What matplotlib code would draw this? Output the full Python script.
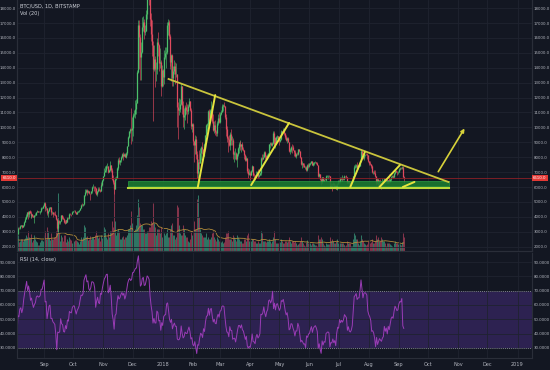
import matplotlib
matplotlib.use('Agg')
import matplotlib.pyplot as plt
import matplotlib.dates as mdates
import matplotlib.transforms as mtrans
import numpy as np
import pandas as pd

# daily BTC/USD candles, one entry per day from start_day
start_day = '2017-07-22'

closes = [
    2830, 2750, 2760, 2570, 2530, 2680, 2800, 2720, 2750, 2870,  # jul 22-31
    2720, 2710, 2800, 2860, 3250, 3230, 3390, 3420, 3340, 3420, 3650, 3850, 4060, 4320, 4160, 4380,
    4280, 4110, 4190, 4080, 4000, 4090, 4140, 4320, 4360, 4340, 4350, 4390, 4580, 4580, 4740,  # aug
    4930, 4580, 4600, 4230, 4400, 4600, 4630, 4300, 4310, 4220, 4190, 4150, 3870, 3230, 3690, 3670,
    3690, 4090, 3910, 3880, 3620, 3600, 3780, 3670, 3930, 3890, 4210, 4180, 4170, 4340,  # sep
    4400, 4400, 4310, 4220, 4320, 4370, 4440, 4610, 4780, 4770, 4830, 5440, 5640, 5820, 5690, 5750,
    5600, 5570, 5700, 6000, 6000, 5980, 5900, 5520, 5740, 5890, 5770, 5750, 6150, 6130, 6450,  # oct
    6740, 7030, 7150, 7380, 7400, 6990, 7120, 7450, 7150, 6570, 6340, 5880, 6520, 6600, 7280, 7840,
    7690, 7790, 8040, 8200, 8100, 8240, 8040, 8250, 8750, 9330, 9730, 9900, 9830, 9940,  # nov
    10860, 10900, 11240, 11620, 11670, 13750, 16850, 16050, 14700, 15060, 16730, 17080, 16390, 16500,
    17600, 19100, 19000, 18800, 17300, 16300, 15500, 13900, 14600, 13900, 13900, 15700, 15500, 14300,
    14400, 12800, 13860,  # dec
    13400, 14750, 15010, 15050, 16900, 17100, 16150, 14900, 14400, 14850, 13300, 13800, 14100, 13600,
    13600, 11400, 11200, 11250, 11550, 12750, 11500, 10700, 10850, 11350, 11150, 11100, 11450, 11750,
    11200, 10100, 10220,  # jan
    9100, 8850, 9200, 8200, 6930, 7700, 7600, 8250, 8700, 8550, 8100, 8900, 8550, 9500, 10150, 10200,
    11100, 10400, 11150, 11250, 10450, 9850, 10150, 9700, 9650, 10300, 10600, 10330,  # feb
    10920, 11030, 11450, 11500, 11450, 10700, 9900, 9300, 9250, 8790, 9530, 9150, 9150, 8200, 8260,
    8270, 7870, 8200, 8600, 8900, 8900, 8720, 8900, 8550, 8450, 8130, 7800, 7950, 7100, 6850, 6930,  # mar
    6820, 7050, 7420, 6800, 6780, 6620, 6900, 7030, 6770, 6830, 6950, 7920, 7890, 8010, 8360, 8060,
    7890, 8170, 8290, 8860, 8920, 8800, 8950, 9650, 8870, 9280, 8930, 9350, 9400, 9240,  # apr
    9070, 9220, 9740, 9700, 9850, 9650, 9370, 9180, 9300, 9020, 8420, 8470, 8700, 8680, 8480, 8330,
    8050, 8240, 8230, 8520, 8390, 8000, 7520, 7580, 7470, 7340, 7350, 7120, 7470, 7400, 7500,  # may
    7520, 7640, 7720, 7500, 7620, 7660, 7690, 7620, 7500, 6770, 6880, 6550, 6300, 6640, 6400, 6500,
    6460, 6710, 6740, 6760, 6720, 6050, 6170, 6150, 6250, 6080, 6130, 5890, 6210, 6390,  # jun
    6350, 6620, 6510, 6590, 6530, 6600, 6750, 6710, 6670, 6300, 6390, 6250, 6220, 6260, 6360, 6740,
    7320, 7380, 7470, 7330, 7400, 7400, 7720, 8400, 8170, 7930, 8190, 8230, 8210, 8170, 7730,  # jul
    7610, 7540, 7420, 7010, 7030, 6940, 6720, 6280, 6540, 6150, 6240, 6320, 6250, 6190, 6270, 6310,
    6580, 6400, 6490, 6270, 6480, 6360, 6520, 6690, 6740, 6700, 6910, 7090, 7040, 6980, 7010,  # aug
    7190, 7270, 7260, 7370, 6700, 6610,  # sep 1-6
]

highs = [
    2870, 2860, 2790, 2770, 2610, 2700, 2830, 2810, 2760, 2890,
    2920, 2760, 2820, 2890, 3340, 3290, 3420, 3480, 3430, 3440, 3700, 3960, 4200, 4330, 4400, 4400,
    4480, 4370, 4200, 4200, 4100, 4130, 4260, 4340, 4460, 4380, 4400, 4400, 4640, 4630, 4760,
    4980, 4960, 4720, 4610, 4480, 4650, 4680, 4690, 4400, 4320, 4340, 4370, 4150, 3920, 3800, 3800,
    3740, 4120, 4100, 4040, 3900, 3760, 3800, 3780, 3970, 3970, 4230, 4260, 4200, 4370,
    4420, 4480, 4430, 4350, 4360, 4420, 4470, 4620, 4890, 4920, 4880, 5450, 5860, 5840, 5850, 5780,
    5760, 5600, 5720, 6070, 6190, 6080, 6050, 5910, 5760, 5970, 6000, 5840, 6330, 6190, 6470,
    6750, 7300, 7440, 7480, 7590, 7440, 7200, 7760, 7460, 7290, 6800, 6480, 6700, 6720, 7330, 7960,
    8000, 7840, 8100, 8300, 8370, 8300, 8270, 8360, 8780, 9450, 9740, 9960, 11300, 10700,
    10940, 11150, 11850, 11630, 11900, 13850, 17180, 17200, 16300, 15700, 17400, 17500, 17250, 16900,
    17900, 19300, 19660, 19100, 18900, 17700, 17200, 15800, 15500, 14800, 14400, 16000, 16400, 15600,
    15300, 14500, 14200,
    13900, 15200, 15400, 15400, 17100, 17250, 17200, 16300, 15400, 14900, 14900, 14100, 14500, 14400,
    14300, 13600, 11700, 12000, 11900, 13000, 12750, 11800, 11300, 11500, 11700, 11600, 11600, 12000,
    11800, 11300, 10300,
    10300, 9100, 9500, 9400, 8400, 7900, 8500, 8600, 8750, 9050, 8550, 8950, 8950, 9500, 10250, 10300,
    11150, 11250, 11250, 11800, 11300, 10900, 10450, 10500, 9850, 10450, 10900, 11050,
    11000, 11150, 11550, 11550, 11700, 11450, 10900, 10100, 9400, 9500, 9700, 9900, 9450, 9300, 8400,
    8600, 8350, 8250, 8700, 9050, 9150, 9100, 8900, 9000, 8700, 8500, 8200, 8100, 7950, 7300, 7200,
    7050, 7120, 7500, 7420, 6920, 6800, 7050, 7100, 7180, 6900, 6980, 8000, 8200, 8200, 8400, 8400,
    8180, 8200, 8300, 8900, 9050, 9000, 9000, 9750, 9750, 9300, 9350, 9450, 9500, 9450,
    9250, 9250, 9800, 9780, 9990, 9950, 9650, 9480, 9360, 9380, 9030, 8650, 8750, 8880, 8850, 8490,
    8450, 8270, 8380, 8550, 8550, 8400, 8030, 7720, 7640, 7620, 7400, 7430, 7550, 7580, 7600,
    7580, 7700, 7760, 7760, 7650, 7700, 7750, 7700, 7680, 7500, 6930, 6900, 6600, 6700, 6650, 6550,
    6590, 6800, 6830, 6810, 6800, 6730, 6250, 6250, 6350, 6300, 6190, 6170, 6290, 6500,
    6440, 6670, 6680, 6780, 6700, 6630, 6800, 6770, 6810, 6690, 6400, 6390, 6340, 6320, 6400, 6750,
    7460, 7560, 7540, 7680, 7450, 7570, 7770, 8480, 8480, 8290, 8250, 8240, 8290, 8270, 8180,
    7760, 7720, 7540, 7500, 7080, 7160, 7150, 6730, 6620, 6560, 6480, 6480, 6540, 6250, 6620, 6480,
    6600, 6620, 6550, 6540, 6500, 6880, 6560, 6720, 6800, 6780, 6950, 7130, 7140, 7060, 7090,
    7250, 7350, 7340, 7400, 7380, 6720,
]

lows = [
    2650, 2700, 2700, 2520, 2450, 2510, 2670, 2690, 2620, 2710,
    2680, 2650, 2700, 2770, 2850, 3170, 3200, 3350, 3250, 3320, 3400, 3620, 3850, 3990, 3850, 3960,
    4250, 3950, 3950, 4020, 3960, 3610, 4070, 4120, 4310, 4300, 4320, 4200, 4350, 4500, 4570,
    4700, 4400, 4480, 4100, 4000, 4400, 4530, 4150, 4200, 4000, 4150, 4080, 3770, 3200, 2970, 3530,
    3500, 3690, 3850, 3850, 3580, 3500, 3580, 3640, 3660, 3860, 3880, 4130, 4050, 4160,
    4300, 4370, 4260, 4180, 4170, 4310, 4320, 4430, 4560, 4730, 4740, 4820, 5380, 5580, 5450, 5570,
    5500, 5100, 5550, 5620, 5900, 5720, 5630, 5460, 5400, 5690, 5720, 5680, 5740, 6040, 6100,
    6380, 6740, 7000, 7030, 7300, 6950, 6980, 7060, 7040, 6450, 6200, 5500, 5860, 6450, 6580, 7130,
    7550, 7490, 7670, 7950, 7830, 8090, 7980, 7940, 8180, 8730, 9310, 9640, 8900, 9100,
    9400, 10680, 10600, 10900, 11450, 11670, 13680, 13900, 13150, 13200, 15000, 16500, 15900, 16200,
    16500, 17300, 18700, 18200, 16800, 15800, 14800, 10400, 13800, 12700, 13100, 13600, 14800, 13800,
    14000, 12100, 12700,
    12800, 12900, 14600, 14000, 14900, 16200, 15900, 13900, 14100, 13100, 12800, 12800, 13600, 12900,
    13400, 10000, 9200, 10800, 11000, 11500, 10900, 10000, 9900, 10500, 10900, 10300, 10900, 11400,
    11100, 9900, 9700,
    8800, 7700, 8200, 7900, 6600, 5920, 7200, 7600, 7800, 8200, 7850, 8100, 8400, 8550, 9400, 9750,
    10100, 10100, 10350, 11100, 10300, 9750, 9600, 9500, 9400, 9400, 10150, 10300,
    10300, 10800, 11000, 11100, 11400, 10550, 9400, 9050, 8350, 8750, 8500, 8800, 8850, 7900, 7700,
    7900, 7800, 7350, 8100, 8300, 8750, 8500, 8350, 8500, 8400, 7850, 7750, 7750, 6950, 6600, 6800,
    6450, 6780, 7000, 6750, 6600, 6500, 6600, 6880, 6600, 6650, 6800, 6780, 7750, 7850, 8000, 7900,
    7850, 7850, 8100, 8200, 8600, 8750, 8780, 8900, 8700, 8650, 8900, 8900, 9200, 9100,
    8850, 9000, 9150, 9550, 9700, 9500, 9200, 9100, 8950, 9000, 8350, 8200, 8350, 8300, 8450, 8100,
    8000, 7950, 8150, 8170, 8350, 7970, 7450, 7300, 7330, 7330, 7230, 7080, 7080, 7300, 7370,
    7380, 7480, 7600, 7460, 7380, 7500, 7640, 7550, 7480, 6680, 6660, 6470, 6110, 6300, 6380, 6380,
    6450, 6410, 6680, 6560, 6690, 5950, 6040, 5760, 6080, 6060, 6030, 5860, 5800, 6200,
    6290, 6290, 6460, 6430, 6460, 6450, 6570, 6690, 6650, 6290, 6280, 6080, 6140, 6200, 6250, 6340,
    6660, 7260, 7290, 7290, 7210, 7370, 7380, 7700, 8070, 7860, 7800, 8080, 8130, 7890, 7650,
    7460, 7480, 7290, 6960, 6880, 6850, 6680, 6130, 6200, 6040, 6020, 6200, 6150, 5880, 6180, 6220,
    6300, 6300, 6300, 6250, 6260, 6280, 6330, 6420, 6680, 6580, 6680, 6880, 6980, 6820, 6900,
    7000, 7150, 7200, 7240, 6680, 6300,
]

# daily volume, thousands of BTC
volumes = [
    14, 12, 10, 13, 12, 10, 11, 9, 9, 10,
    12, 10, 9, 9, 16, 9, 10, 12, 12, 10, 12, 13, 16, 14, 20, 14, 13, 17, 12, 9,
    11, 16, 12, 10, 9, 6, 6, 9, 11, 11, 10,
    16, 20, 12, 24, 20, 13, 11, 18, 12, 12, 14, 14, 20, 30, 58, 18, 10, 16, 14, 10,
    16, 16, 9, 7, 12, 10, 14, 12, 11, 8,
    8, 10, 11, 11, 10, 9, 7, 10, 14, 12, 14, 26, 24, 14, 15, 11, 12, 15, 12, 14,
    14, 12, 16, 20, 16, 13, 14, 10, 16, 12, 13,
    18, 24, 22, 14, 12, 18, 14, 20, 20, 30, 24, 68, 30, 16, 20, 22, 20, 12, 12, 14,
    15, 12, 14, 14, 16, 22, 22, 26, 40, 28,
    22, 20, 22, 26, 22, 36, 52, 44, 28, 26, 26, 22, 22, 18, 18, 20, 20, 24, 24, 30,
    28, 48, 28, 24, 16, 22, 22, 22, 18, 24, 14,
    12, 18, 16, 18, 22, 14, 14, 22, 18, 26, 28, 16, 16, 12, 14, 46, 44, 26, 18, 16,
    16, 26, 22, 16, 14, 14, 10, 9, 12, 20, 16,
    22, 30, 22, 22, 52, 56, 34, 22, 18, 16, 14, 14, 12, 14, 18, 12, 14, 12, 12, 14,
    18, 20, 14, 12, 10, 14, 12, 10,
    10, 9, 10, 8, 9, 14, 18, 18, 20, 12, 12, 12, 10, 16, 14, 12, 10, 16, 14, 12,
    10, 8, 10, 8, 8, 12, 12, 10, 16, 18, 10,
    10, 10, 12, 12, 10, 10, 8, 8, 10, 8, 8, 20, 18, 10, 10, 10, 9, 10, 10, 12,
    10, 8, 10, 14, 20, 12, 10, 8, 8, 8,
    9, 9, 12, 10, 8, 8, 10, 10, 9, 10, 14, 10, 8, 10, 10, 9, 10, 8, 6, 7,
    8, 10, 14, 10, 8, 6, 5, 9, 11, 8, 8,
    8, 8, 6, 8, 8, 7, 6, 6, 5, 16, 12, 12, 14, 12, 8, 6, 5, 8, 7, 7,
    7, 14, 10, 12, 10, 8, 8, 10, 12, 8,
    6, 8, 8, 8, 8, 6, 6, 5, 6, 10, 8, 8, 8, 5, 5, 12, 18, 16, 12, 12,
    8, 6, 10, 16, 12, 10, 8, 7, 6, 7, 10,
    10, 8, 9, 12, 8, 8, 10, 16, 12, 14, 10, 7, 10, 14, 12, 10, 10, 8, 5, 8,
    8, 8, 7, 6, 5, 4, 8, 10, 8, 8, 7,
    8, 7, 6, 9, 18, 14,
]

# drawn levels: (date, price) pairs
upper_trend = [('2018-01-07', 13250), ('2018-10-22', 6335)]
rise_lines = [
    [('2018-02-06', 5950), ('2018-02-24', 12170)],
    [('2018-04-02', 6130), ('2018-05-11', 10300)],
    [('2018-07-13', 6000), ('2018-07-28', 8350)],
    [('2018-08-12', 6000), ('2018-09-02', 7470)],
    [('2018-09-05', 6000), ('2018-09-11', 6170), ('2018-09-17', 6340)],
]
arrow_pts = [('2018-10-10', 6870), ('2018-11-09', 10090)]
support_zone = ('2017-11-26', '2018-10-23', 6080, 6400)
support_line = 5950
last_price = 6610

bg = '#131722'
txt = '#b2b5be'
grid_c = '#1f2330'
up_c, dn_c = '#4cbf6b', '#e04a5e'
vup_c, vdn_c = '#2f7563', '#83344b'

dates = pd.date_range(start_day, periods=len(closes), freq='D')
c = np.array(closes, float)
o = np.r_[c[0], c[:-1]]
h = np.array(highs, float)
l = np.array(lows, float)
v = np.array(volumes, float)
rising = c >= o

delta = pd.Series(c).diff()
gain = delta.clip(lower=0).ewm(alpha=1/14, adjust=False).mean()
loss = (-delta.clip(upper=0)).ewm(alpha=1/14, adjust=False).mean()
rsi = 100 - 100 / (1 + gain / loss)
vol_ma = pd.Series(v).rolling(20, min_periods=1).mean()

fig = plt.figure(figsize=(5.5, 3.7), dpi=100, facecolor=bg)
ax = fig.add_axes([17/550, 1-251/370, 515/550, 251/370])
axv = ax.twinx()
axr = fig.add_axes([17/550, 1-358/370, 515/550, 105/370], sharex=ax)

ax.set_zorder(2)
axv.set_zorder(1)
ax.patch.set_visible(False)
axv.patch.set_facecolor(bg)
axr.set_facecolor(bg)

# volume
axv.vlines(dates, 0, v, colors=np.where(rising, vup_c, vdn_c), lw=0.75)
axv.plot(dates, vol_ma, color='#b08a3a', lw=0.6)
axv.set_ylim(0, 251)
axv.set_yticks([])

# candles
cols = np.where(rising, up_c, dn_c)
ax.vlines(dates, l, h, colors=cols, lw=0.45)
ax.vlines(dates, np.minimum(o, c), np.maximum(o, c), colors=cols, lw=0.9)

# support zone and trend lines
x0, x1, y0, y1 = support_zone
ax.fill_between([pd.Timestamp(x0), pd.Timestamp(x1)], y0, y1, color='#1a7a30', alpha=0.9,
                edgecolor='#2aa845', lw=0.5, zorder=3)
ax.plot([pd.Timestamp(x0), pd.Timestamp(x1)], [support_line] * 2, color='#bcd93a', lw=1.5, zorder=3)
ax.axhline(last_price, color='#8e2026', lw=0.6, zorder=2)

def seg(pts):
    return [pd.Timestamp(p[0]) for p in pts], [p[1] for p in pts]

xs, ys = seg(upper_trend)
ax.plot(xs, ys, color='#c9c43c', lw=1.3, zorder=4)
for pts in rise_lines:
    xs, ys = seg(pts)
    ax.plot(xs, ys, color='#e4e33e', lw=1.4, zorder=4, solid_capstyle='round')
xs, ys = seg(arrow_pts)
ax.annotate('', xy=(xs[1], ys[1]), xytext=(xs[0], ys[0]),
            arrowprops=dict(arrowstyle='-|>', color='#d7d23a', lw=1.2, mutation_scale=5), zorder=4)

ax.set_xlim(pd.Timestamp('2017-08-04 02:00'), pd.Timestamp('2019-01-15 22:00'))
ax.set_ylim(1705, 18550)
ax.set_yticks(range(2000, 18001, 1000))
ax.set_yticklabels([f'{t:.1f}' for t in range(2000, 18001, 1000)])
ax.tick_params(axis='y', length=0, labelsize=2.8, labelcolor=txt, pad=1,
               labelleft=True, labelright=True)
ax.tick_params(axis='x', length=0, labelbottom=False)
ax.grid(True, color=grid_c, lw=0.6)

blend = mtrans.blended_transform_factory(ax.transAxes, ax.transData)
for xa, ha in [(-0.002, 'right'), (1.002, 'left')]:
    ax.text(xa, last_price, f'{last_price:.1f}', transform=blend, ha=ha, va='center',
            fontsize=2.8, color='white', zorder=6,
            bbox=dict(boxstyle='square,pad=0.35', fc='#e53935', ec='none'))

# RSI panel
axr.axhspan(30, 70, color='#6a3cbf', alpha=0.3, lw=0)
for lvl in (70, 30):
    axr.axhline(lvl, color='#9a9ca6', lw=0.6, ls=(0, (1, 1.5)))
axr.plot(dates, rsi, color='#9a3cb6', lw=0.7)
axr.set_ylim(23, 96.3)
axr.set_yticks(range(30, 91, 10))
axr.set_yticklabels([f'{t:.4f}' for t in range(30, 91, 10)])
axr.tick_params(axis='y', length=0, labelsize=2.8, labelcolor=txt, pad=1,
                labelleft=True, labelright=True)
axr.grid(True, color=grid_c, lw=0.6)

axr.xaxis.set_major_locator(mdates.MonthLocator())
axr.xaxis.set_major_formatter(plt.FuncFormatter(
    lambda x, p: mdates.num2date(x).strftime('%Y') if mdates.num2date(x).month == 1
    else mdates.num2date(x).strftime('%b')))
axr.tick_params(axis='x', length=0, labelsize=3.6, labelcolor=txt, pad=3)

for a in (ax, axv, axr):
    for s in a.spines.values():
        s.set_color('#2a2e39')
        s.set_linewidth(0.8)
    a.spines['top'].set_visible(False)

fig.text(20/550, 1-6/370, 'BTC/USD, 1D, BITSTAMP', fontsize=3.6, color='#d1d4dc', va='center')
fig.text(20/550, 1-14/370, 'Vol (20)', fontsize=3.6, color='#d1d4dc', va='center')
fig.text(20/550, 1-259/370, 'RSI (14, close)', fontsize=3.6, color='#d1d4dc', va='center')

fig.savefig('out.png', dpi=100, facecolor=bg)
